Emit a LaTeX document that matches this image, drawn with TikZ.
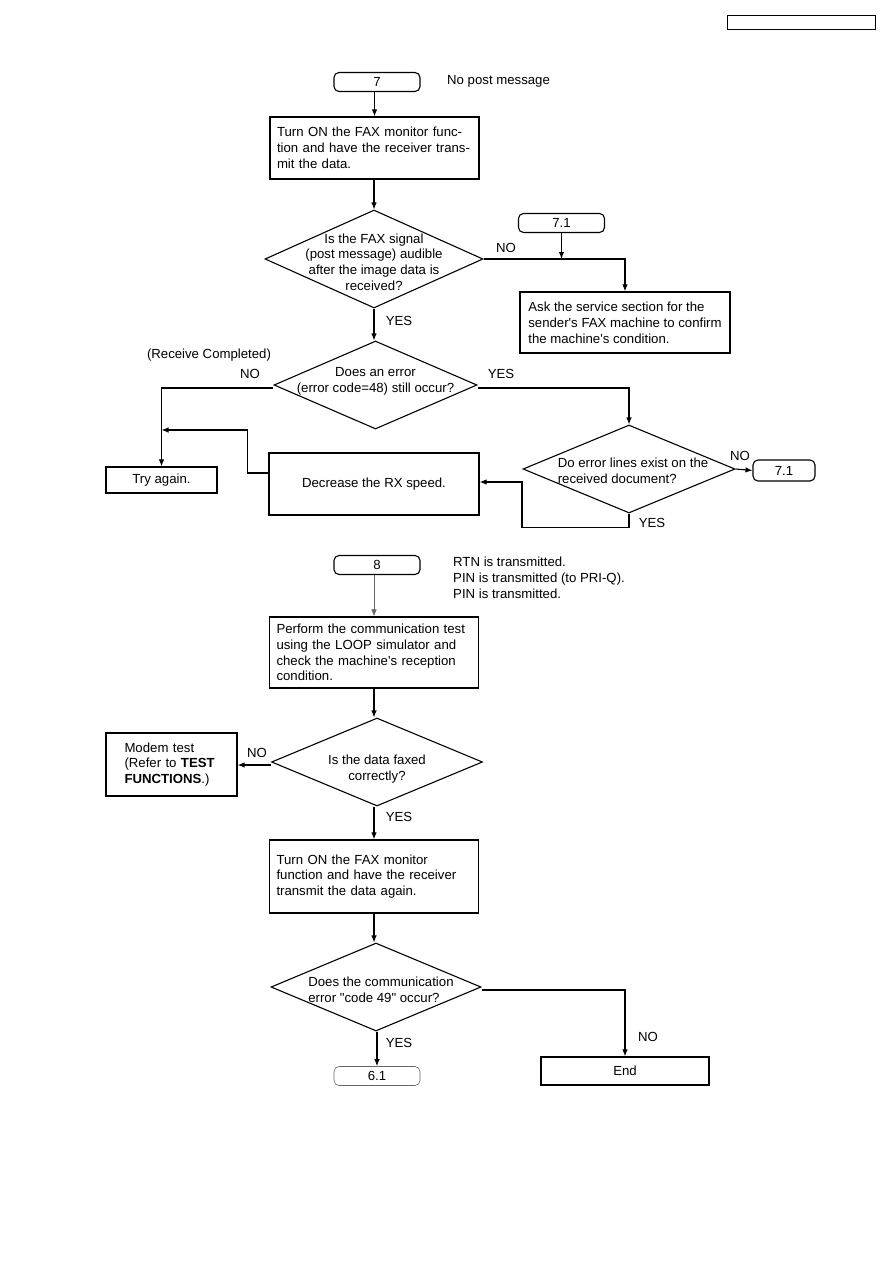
\documentclass[tikz,border=0pt]{standalone}
\usepackage{fontspec}
\setmainfont{Liberation Sans}[Ligatures=TeXOff]
\usetikzlibrary{positioning, arrows.meta, shapes.geometric}

\begin{document}
\begin{tikzpicture}[
    x=1pt, y=-1pt,
    >={Latex[length=7pt, width=5.5pt]},
    font=\fontsize{13.2}{15.8}\selectfont,
    procbox/.style={draw, line width=1.2pt, rectangle, minimum width=209pt, minimum height=62pt, text width=195pt, align=left, inner sep=0pt},
    termbox/.style={draw, line width=1.1pt, rectangle, rounded corners=5pt, minimum width=86pt, minimum height=19pt, inner sep=0pt},
    decision/.style={draw, line width=1.1pt, diamond, minimum width=210pt, minimum height=88pt, inner sep=0pt},
    txt/.style={align=center, inner sep=0pt},
    note/.style={anchor=west, align=left, inner sep=0pt},
    flow/.style={->, line width=1.1pt},
    thinflow/.style={->, line width=0.6pt, black!60}
]
\useasboundingbox (0,0) rectangle (893,1263);

% header box
\node[draw, line width=1pt, minimum width=148pt, minimum height=14pt, inner sep=0pt] (hdr) at (801,23) {};

% ==========================================
% Flow 7 : no post message
% ==========================================
\node[termbox] (t7) at (377,82) {7};
\node[note] (t7note) at (447,81) {No post message};

\node[procbox] (b1) at (374.5,148) {Turn ON the FAX monitor func-\\tion and have the receiver trans-\\mit the data.};

\node[decision, minimum width=218pt, minimum height=98pt] (d1) at (374,259) {};
\node[txt] (d1t) at (374,262) {Is the FAX signal\\(post message) audible\\after the image data is\\received?};

\node[termbox] (t71a) at (561.5,223) {7.1};
\node[procbox, minimum width=210pt, minimum height=61pt, text width={}] (b2) at (625,322.5) {Ask the service section for the\\sender's FAX machine to confirm\\the machine's condition.};

\node[decision, minimum width=203pt, minimum height=88pt] (d2) at (375.5,385) {};
\node[txt] (d2t) at (375.5,381) {Does an error\\(error code=48) still occur?};
\node[txt] (rcv) at (209,355) {(Receive Completed)};

\node[draw, line width=1.2pt, minimum width=111pt, minimum height=26pt, inner sep=0pt] (try) at (161.5,480) {Try again.};
\node[draw, line width=1.2pt, minimum width=210pt, minimum height=62pt, inner sep=0pt] (dec) at (374,484) {Decrease the RX speed.};

\node[decision, minimum width=212pt, minimum height=88pt] (d3) at (629,469) {};
\node[txt, align=left] (d3t) at (633,471) {Do error lines exist on the\\received document?};
\node[termbox, minimum width=62pt, minimum height=21pt] (t71b) at (784,470.5) {7.1};

% labels
\node[txt] (no1) at (506,248) {NO};
\node[txt] (yes1) at (399,321) {YES};
\node[txt] (no2) at (250,374) {NO};
\node[txt] (yes2) at (501,374) {YES};
\node[txt] (no3) at (740,456) {NO};
\node[txt] (yes3) at (652,523) {YES};

% connectors
\draw[flow] (t7.south -| b1.north) -- (b1.north);
\draw[flow] (b1.south -| d1.north) -- (d1.north);
\draw[flow] (d1.east) -| (b2.north);
\draw[flow] (t71a.south) -- (t71a.south |- d1.east);
\draw[flow] (d1.south) -- (d1.south |- d2.north);
\draw[flow] ([yshift=-3pt]d2.east) -| (d3.north);
\draw[flow] ([yshift=-3pt]d2.west) -| (try.north);
\coordinate (mergeTry) at (try.north |- 0,430);
\draw[flow] ([yshift=11pt]dec.west) -- ++(-21,0) |- (mergeTry);
\draw[flow] (d3.south) -- ++(0,14) -- ++(-107,0) |- ([yshift=2pt]dec.east);
\draw[flow] (d3.east) -- (t71b.west);

% ==========================================
% Flow 8 : RTN / PIN transmitted
% ==========================================
\node[termbox] (t8) at (377,565) {8};
\node[note, anchor=north west] (t8note) at (453,557) {RTN is transmitted.\\PIN is transmitted (to PRI-Q).\\PIN is transmitted.};

\node[procbox, minimum height=71pt] (b3) at (374,652.5) {Perform the communication test\\using the LOOP simulator and\\check the machine's reception\\condition.};

\node[decision, minimum width=211pt, minimum height=88pt] (d4) at (377,762) {};
\node[txt] (d4t) at (377,769) {Is the data faxed\\correctly?};

\node[draw, line width=1.2pt, minimum width=131pt, minimum height=63pt, text width=112pt, align=left, inner sep=0pt] (modem) at (171.5,764.5) {\hspace*{9pt}Modem test\\\hspace*{9pt}(Refer to \textbf{TEST}\\\hspace*{9pt}\textbf{FUNCTIONS}.)};

\node[procbox, minimum height=73pt] (b4) at (374,876.5) {Turn ON the FAX monitor\\function and have the receiver\\transmit the data again.};

\node[decision, minimum width=210pt, minimum height=88pt] (d5) at (376,987) {};
\node[txt, align=left] (d5t) at (381,990) {Does the communication\\error "code 49" occur?};

\node[termbox, line width=0.6pt, draw=black!60] (t61) at (377,1076) {6.1};
\node[draw, line width=1.2pt, minimum width=168pt, minimum height=28pt, inner sep=0pt] (endbox) at (625,1071) {End};

% labels
\node[txt] (no4) at (257,753) {NO};
\node[txt] (yes4) at (399,817) {YES};
\node[txt] (no5) at (648,1037) {NO};
\node[txt] (yes5) at (399,1043) {YES};

% connectors
\coordinate (d4w) at ([yshift=-3pt]d4.west);
\draw[thinflow] (t8.south -| b3.north) -- (b3.north);
\draw[flow] (b3.south) -- (b3.south |- d4.north);
\draw[flow] (d4w) -- (modem.east |- d4w);
\draw[flow] (d4.south -| b4.north) -- (b4.north);
\draw[flow] (b4.south) -- (b4.south |- d5.north);
\draw[flow] ([yshift=-3pt]d5.east) -| (endbox.north);
\draw[flow] (d5.south -| t61.north) -- (t61.north);

\end{tikzpicture}
\end{document}
